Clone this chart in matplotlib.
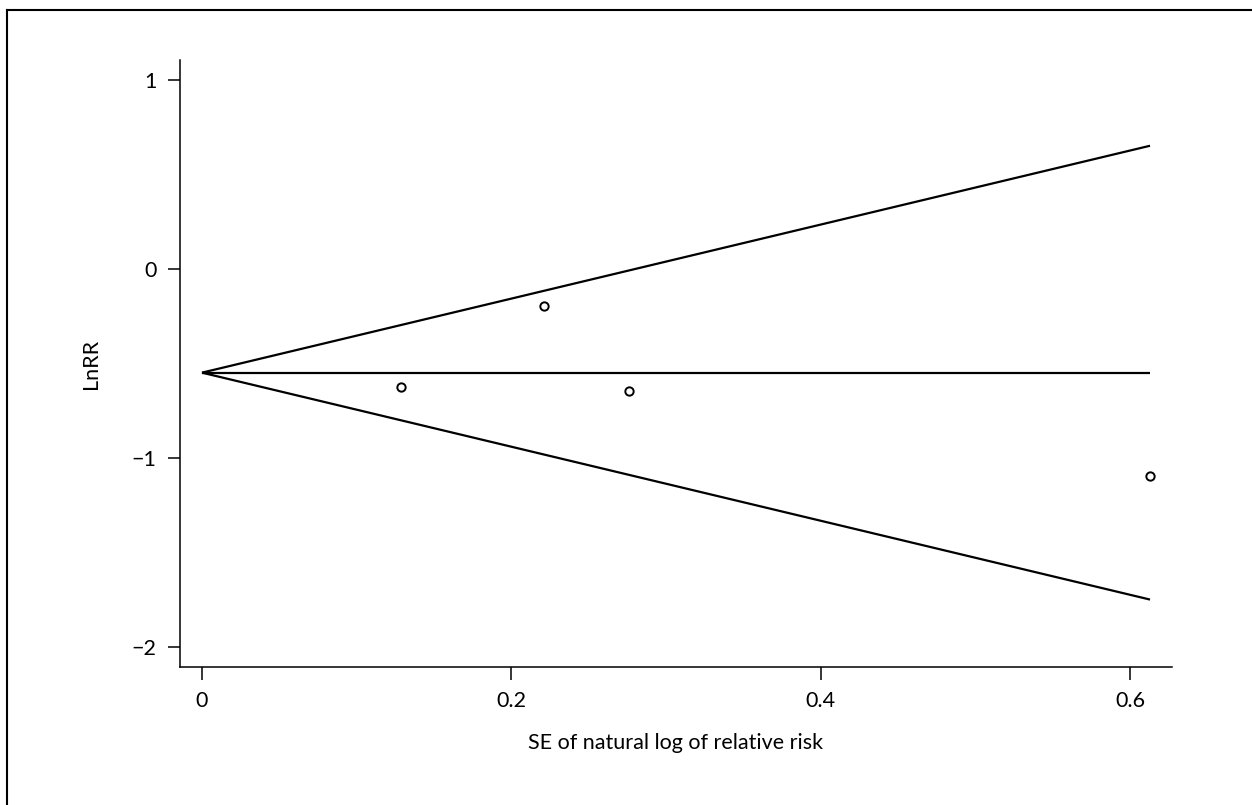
import matplotlib
matplotlib.use("Agg")
import matplotlib.pyplot as plt
from matplotlib.lines import Line2D
import numpy as np

plt.rcParams['font.family'] = ['Lato', 'DejaVu Sans']

# Study estimates: standard error and log relative risk
se = [0.1286, 0.2209, 0.2758, 0.6128]
ln_rr = [-0.625, -0.197, -0.646, -1.097]

# Pooled (fixed-effect) log relative risk
pooled = -0.549
se_max = 0.6128

xticks = [0, 0.2, 0.4, 0.6]
xtick_labels = ["0", "0.2", "0.4", "0.6"]
yticks = [-2, -1, 0, 1]
ytick_labels = ["\u22122", "\u22121", "0", "1"]

fig = plt.figure(figsize=(12.52, 8.05), dpi=100)
ax = fig.add_axes([180 / 1252, 1 - 667 / 805, (1172 - 180) / 1252, (667 - 60) / 805])

# Pseudo 95% confidence limits
se_line = np.array([0.0, se_max])
ax.plot(se_line, pooled + 1.96 * se_line, color="black", lw=1.6, solid_capstyle="butt")
ax.plot(se_line, pooled - 1.96 * se_line, color="black", lw=1.6, solid_capstyle="butt")
ax.plot(se_line, [pooled, pooled], color="black", lw=1.6, solid_capstyle="butt")

ax.plot(se, ln_rr, linestyle="none", marker="o", markersize=6,
        markerfacecolor="white", markeredgecolor="black", markeredgewidth=1.4)

ax.set_xlim(-0.0142, 0.627)
ax.set_ylim(-2.107, 1.106)
ax.set_xticks(xticks)
ax.set_xticklabels(xtick_labels)
ax.set_yticks(yticks)
ax.set_yticklabels(ytick_labels)

for side in ("top", "right"):
    ax.spines[side].set_visible(False)
for side in ("left", "bottom"):
    ax.spines[side].set_linewidth(1.1)
ax.tick_params(axis="both", direction="out", length=9, width=1.1,
               labelsize=15.5, pad=8, colors="black")

ax.set_xlabel("SE of natural log of relative risk", fontsize=15.5, labelpad=16)
ax.set_ylabel("LnRR", fontsize=15.5, labelpad=22)

# Outer frame (top and left edges)
fig.add_artist(Line2D([7 / 1252, 7 / 1252], [0, 1 - 10 / 805], transform=fig.transFigure,
                      color="black", lw=1.5))
fig.add_artist(Line2D([7 / 1252, 1], [1 - 10 / 805, 1 - 10 / 805], transform=fig.transFigure,
                      color="black", lw=1.5))

fig.savefig("out.png", dpi=100, facecolor="white")
